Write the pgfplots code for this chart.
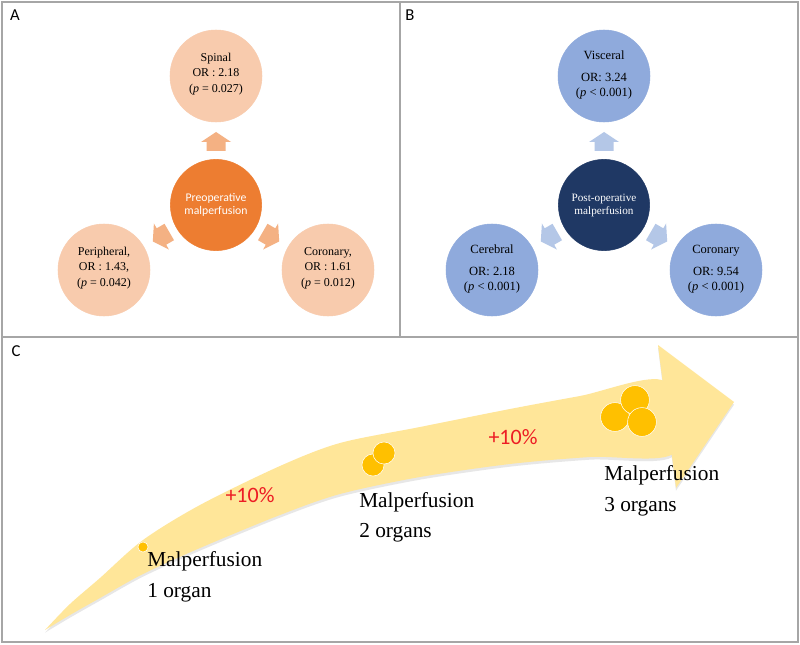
\documentclass[border=0pt]{standalone}
\usepackage{pgfplots}
\pgfplotsset{compat=1.18}
\usepackage{fontspec}
\setmainfont{Liberation Serif}
\newfontfamily\calibri{Carlito}

\definecolor{peach}{HTML}{F8CBAD}
\definecolor{orangec}{HTML}{ED7D31}
\definecolor{orangearr}{HTML}{F4B183}
\definecolor{blueli}{HTML}{8FAADC}
\definecolor{navy}{HTML}{1F3864}
\definecolor{bluearr}{HTML}{B4C7E7}
\definecolor{band}{HTML}{FFE699}
\definecolor{gold}{HTML}{FFC000}
\definecolor{plusred}{HTML}{ED1C24}
\definecolor{framegray}{HTML}{A6A6A6}

\begin{document}
\begin{tikzpicture}
  \begin{axis}[
      set layers=standard,
      scale only axis,
      width=600pt, height=483pt,
      xmin=0, xmax=800,
      ymin=0, ymax=644,
      y dir=reverse,
      hide axis,
      clip=false,
    ]
    \begin{pgfonlayer}{axis background}
      \fill[white] (0,0) rectangle (800,644);
    \end{pgfonlayer}

    % ---- panel A ----
    \addplot[fill=orangearr, draw=none] coordinates {
      (206.5,151) (206.5,142) (201,142) (216,132) (231,142) (225.5,142) (225.5,151)} -- cycle;
    \addplot[fill=orangearr, draw=none] coordinates {
      (164.5,223.8) (156.7,228.3) (153.9,223.5) (152.8,241.5) (168.9,249.5) (166.2,244.7) (174.0,240.2)} -- cycle;
    \addplot[fill=orangearr, draw=none] coordinates {
      (267.5,223.8) (275.3,228.3) (278.1,223.5) (279.2,241.5) (263.1,249.5) (265.8,244.7) (258.0,240.2)} -- cycle;
    \addplot[only marks, mark=*, mark size=34.5pt, mark options={fill=peach, draw=peach}]
      coordinates {(216,76) (104,270) (328,270)};
    \addplot[only marks, mark=*, mark size=34.2pt, mark options={fill=orangec, draw=orangec}]
      coordinates {(216,205)};

    % ---- panel B ----
    \addplot[fill=bluearr, draw=none] coordinates {
      (594.5,151) (594.5,142) (589,142) (604,132) (619,142) (613.5,142) (613.5,151)} -- cycle;
    \addplot[fill=bluearr, draw=none] coordinates {
      (552.5,223.8) (544.7,228.3) (541.9,223.5) (540.8,241.5) (556.9,249.5) (554.2,244.7) (562.0,240.2)} -- cycle;
    \addplot[fill=bluearr, draw=none] coordinates {
      (655.5,223.8) (663.3,228.3) (666.1,223.5) (667.2,241.5) (651.1,249.5) (653.8,244.7) (646.0,240.2)} -- cycle;
    \addplot[only marks, mark=*, mark size=34.5pt, mark options={fill=blueli, draw=blueli}]
      coordinates {(604,76) (492,270) (716,270)};
    \addplot[only marks, mark=*, mark size=34.2pt, mark options={fill=navy, draw=navy}]
      coordinates {(604,205)};

    % ---- panel C ----
    % soft shadow under the arrow
    \addplot[fill=black!30, fill opacity=0.3, draw=none, smooth, yshift=-2pt] coordinates {
      (45,630) (70,604) (100,578) (143,540) (200,505) (280,466) (340,443)
      (420,427) (510,409) (580,396) (664,381)
      (674,453) (590,457) (510,464) (420,477) (340,494) (280,515) (200,548)
      (143,574) (100,598) (70,615) (45,630)};
    \addplot[fill=black!30, fill opacity=0.3, draw=none, yshift=-2pt] coordinates {
      (658,345) (734,402) (676,488)} -- cycle;
    \addplot[fill=band, draw=none, smooth] coordinates {
      (45,630) (70,604) (100,578) (143,540) (200,505) (280,466) (340,443)
      (420,427) (510,409) (580,396) (664,381)
      (674,453) (590,457) (510,464) (420,477) (340,494) (280,515) (200,548)
      (143,574) (100,598) (70,615) (45,630)};
    \addplot[fill=band, draw=none] coordinates {
      (658,345) (734,402) (676,488)} -- cycle;

    \addplot[only marks, mark=*, mark size=3.8pt, mark options={fill=gold, draw=white, line width=0.4pt}]
      coordinates {(143,547)};
    \addplot[only marks, mark=*, mark size=8.3pt, mark options={fill=gold, draw=white, line width=0.4pt}]
      coordinates {(373,465) (384,453)};
    \addplot[only marks, mark=*, mark size=10.8pt, mark options={fill=gold, draw=white, line width=0.4pt}]
      coordinates {(615,417) (635,400) (642,422)};

    \begin{pgfonlayer}{axis foreground}
    \node[align=center, font=\fontsize{9}{11.6}\selectfont] at (216,74)
      {Spinal\\OR : 2.18\\(\textit{p} = 0.027)};
    \node[align=center, font=\fontsize{9}{11.6}\selectfont] at (104,268)
      {Peripheral,\\OR : 1.43,\\(\textit{p} = 0.042)};
    \node[align=center, font=\fontsize{9}{11.6}\selectfont] at (328,268)
      {Coronary,\\OR : 1.61\\(\textit{p} = 0.012)};
    \node[align=center, text=white, font=\calibri\fontsize{8.8}{9.2}\selectfont] at (216,205)
      {Preoperative\\malperfusion};

    \node[align=center, font=\fontsize{9.4}{11.3}\selectfont] at (604,75)
      {Visceral\\[5pt]OR: 3.24\\(\textit{p} < 0.001)};
    \node[align=center, font=\fontsize{9.4}{11.3}\selectfont] at (492,269)
      {Cerebral\\[5pt]OR: 2.18\\(\textit{p} < 0.001)};
    \node[align=center, font=\fontsize{9.4}{11.3}\selectfont] at (716,269)
      {Coronary\\[5pt]OR: 9.54\\(\textit{p} < 0.001)};
    \node[align=center, text=white, font=\fontsize{8.4}{9.75}\selectfont] at (604,205)
      {Post-operative\\malperfusion};

    \node[text=plusred, font=\calibri\fontsize{16.5}{18}\selectfont] at (250,495) {+10\%};
    \node[text=plusred, font=\calibri\fontsize{16.5}{18}\selectfont] at (513,437) {+10\%};

    \node[anchor=base west, inner sep=0pt, font=\fontsize{16}{20}\selectfont] at (147,566) {Malperfusion};
    \node[anchor=base west, inner sep=0pt, font=\fontsize{16}{20}\selectfont] at (147,597) {1 organ};
    \node[anchor=base west, inner sep=0pt, font=\fontsize{16}{20}\selectfont] at (359,507) {Malperfusion};
    \node[anchor=base west, inner sep=0pt, font=\fontsize{16}{20}\selectfont] at (359,537) {2 organs};
    \node[anchor=base west, inner sep=0pt, font=\fontsize{16}{20}\selectfont] at (604,480) {Malperfusion};
    \node[anchor=base west, inner sep=0pt, font=\fontsize{16}{20}\selectfont] at (604,511) {3 organs};

    % ---- frames and panel letters ----
    \draw[framegray, line width=1.2pt] (2,2) rectangle (798,642);
    \draw[framegray, line width=1.2pt] (400,2) -- (400,337);
    \draw[framegray, line width=1.2pt] (2,337) -- (798,337);

    \node[font=\calibri\fontsize{12.5}{14}\selectfont] at (15,15) {A};
    \node[font=\calibri\fontsize{12.5}{14}\selectfont] at (410,15) {B};
    \node[font=\calibri\fontsize{12.5}{14}\selectfont] at (16,351) {C};
    \end{pgfonlayer}
  \end{axis}
\end{tikzpicture}
\end{document}
